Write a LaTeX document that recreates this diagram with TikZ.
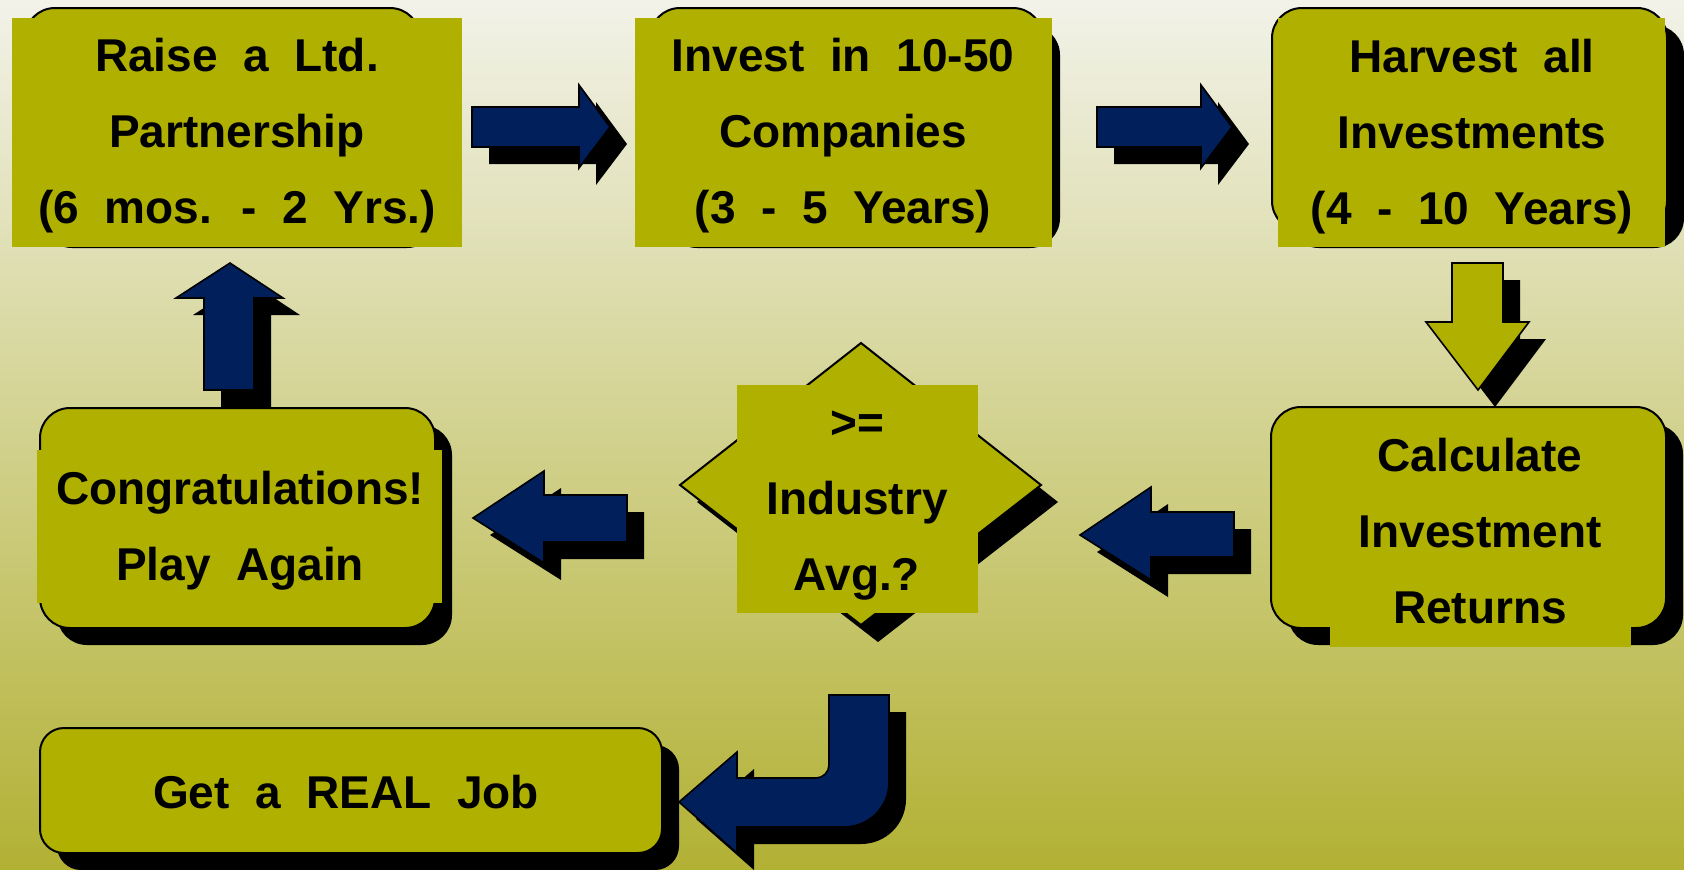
\documentclass[tikz,border=0pt]{standalone}
\usepackage{fontspec}
\setmainfont[WordSpace=2]{Liberation Sans}
\definecolor{boxfill}{RGB}{175,176,0}
\definecolor{navy}{RGB}{0,31,91}
\definecolor{bgtop}{RGB}{242,242,233}
\definecolor{bgmid}{RGB}{212,212,166}
\definecolor{bgbot}{RGB}{178,177,52}
\newcommand\withshadow[2]{\fill[black,shift={(17,17)}] #2; \filldraw[#1] #2;}
\begin{document}
\begin{tikzpicture}[x=0.5pt,y=-0.5pt,
  boxshape/.style={fill=boxfill,draw=black,line width=1pt},
  navyarrow/.style={fill=navy,draw=black,line width=0.8pt},
  olivearrow/.style={fill=boxfill,draw=black,line width=0.8pt},
  textrect/.style={fill=boxfill},
  txt/.style={align=center,inner sep=0pt,font=\bfseries\fontsize{23pt}{38pt}\selectfont}]
% background
\shade[top color=bgtop,middle color=bgmid,bottom color=bgbot] (0,0) rectangle (1684,869);
\useasboundingbox (0,0) rectangle (1684,869);

% ---- top row boxes
\withshadow{boxshape}{[rounded corners=15pt] (25,8) rectangle (420,231)}
\fill[textrect] (12,18) rectangle (462,247);
\node[txt] (raise) at (237,136) {Raise a Ltd.\\Partnership\\(6 mos. - 2 Yrs.)};

\withshadow{boxshape}{[rounded corners=15pt] (650,8) rectangle (1043,231)}
\fill[textrect] (635,18) rectangle (1052,247);
\node[txt] (invest) at (843,136) {Invest in 10-50\\Companies\\(3 - 5 Years)};

\withshadow{boxshape}{[rounded corners=15pt] (1272,8) rectangle (1667,231)}
\fill[textrect] (1278,18) rectangle (1665,247);
\node[txt] (harvest) at (1472,137) {Harvest all\\Investments\\(4 - 10 Years)};

% right arrows
\withshadow{navyarrow}{(472,107) -- (579,107) -- (579,85) -- (610,127) -- (579,168) -- (579,147) -- (472,147) -- cycle}
\withshadow{navyarrow}{(1097,107) -- (1201,107) -- (1201,85) -- (1232,127) -- (1201,168) -- (1201,147) -- (1097,147) -- cycle}

% down arrow
\withshadow{olivearrow}{(1452,263) -- (1503,263) -- (1503,322) -- (1529,322) -- (1478,390) -- (1426,322) -- (1452,322) -- cycle}

% up arrow
\withshadow{navyarrow}{(204,390) -- (204,298) -- (176,298) -- (230,263) -- (283,298) -- (254,298) -- (254,390) -- cycle}

% ---- middle row
\withshadow{boxshape}{[rounded corners=15pt] (1271,407) rectangle (1666,628)}
\fill[textrect] (1330,420) rectangle (1631,647);
\node[txt] (calc) at (1480,531) {Calculate\\Investment\\Returns};

\withshadow{navyarrow}{(1234,512) -- (1151,512) -- (1151,487) -- (1080,535) -- (1151,580) -- (1151,557) -- (1234,557) -- cycle}

\withshadow{boxshape}{(861,343) -- (1041,485) -- (861,625) -- (680,485) -- cycle}
\fill[textrect] (737,385) rectangle (978,613);
\node[txt] (avg) at (857,506) {>=\\Industry\\Avg.?};

\withshadow{navyarrow}{(627,495) -- (544,495) -- (544,471) -- (473,518) -- (544,563) -- (544,542) -- (627,542) -- cycle}

\withshadow{boxshape}{[rounded corners=15pt] (40,408) rectangle (435,628)}
\fill[textrect] (37,450) rectangle (442,603);
\node[txt] (congrats) at (240,531) {Congratulations!\\Play Again};

% ---- bottom row
\withshadow{navyarrow}{(829,695) -- (889,695) -- (889,782) .. controls (889,807) and (869,827) .. (844,827) -- (737,827) -- (737,853) -- (679,802) -- (737,752) -- (737,778) -- (816,778) .. controls (823,778) and (829,772) .. (829,765) -- cycle}

\withshadow{boxshape}{[rounded corners=12pt] (40,728) rectangle (662,853)}
\node[txt] (job) at (346,792) {Get a REAL Job};
\end{tikzpicture}
\end{document}
